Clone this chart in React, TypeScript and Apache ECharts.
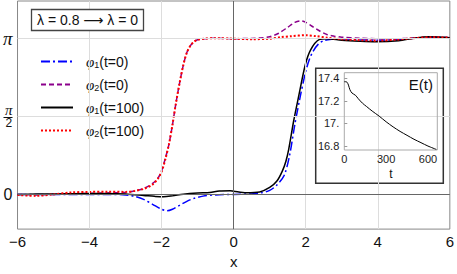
import React, { useEffect, useRef } from "react";
import * as echarts from "echarts";

// φ1 (t=0)
const phi1T0X = [-6, -5, -4, -3.5, -3, -2.75, -2.5, -2.25, -2, -1.85, -1.7, -1.5, -1.3, -1.1, -0.85, -0.5, 0, 0.5, 0.75, 1, 1.2, 1.4, 1.55, 1.7, 1.85, 2, 2.1, 2.2, 2.35, 2.5, 2.75, 3, 3.5, 4, 4.5, 5, 5.5, 6];
const phi1T0Y = [0, 0, 0, 0, -0.01, -0.04, -0.1, -0.2, -0.3, -0.33, -0.3, -0.22, -0.14, -0.08, -0.035, -0.01, 0, 0.01, 0.03, 0.08, 0.19, 0.38, 0.78, 1.42, 1.98, 2.48, 2.72, 2.88, 3.03, 3.1, 3.13, 3.14, 3.12, 3.11, 3.12, 3.15, 3.17, 3.16];
// φ2 (t=0)
const phi2T0X = [-6, -5.5, -5, -4.5, -4, -3.5, -3, -2.75, -2.5, -2.25, -2.1, -2, -1.9, -1.8, -1.7, -1.6, -1.5, -1.4, -1.3, -1.2, -1.1, -1, -0.8, -0.5, 0, 0.5, 0.75, 1, 1.25, 1.5, 1.7, 1.85, 2, 2.2, 2.4, 2.6, 2.8, 3, 3.5, 4, 4.5, 5, 5.5, 6];
const phi2T0Y = [0, -0.01, 0, 0.01, 0.02, 0.03, 0.04, 0.07, 0.12, 0.22, 0.33, 0.48, 0.72, 1.0, 1.4, 1.85, 2.25, 2.6, 2.86, 3.0, 3.08, 3.12, 3.14, 3.15, 3.14, 3.145, 3.155, 3.18, 3.25, 3.37, 3.47, 3.5, 3.47, 3.38, 3.29, 3.22, 3.19, 3.17, 3.15, 3.14, 3.14, 3.15, 3.17, 3.16];
// φ1 (t=100)
const phi1T100X = [-6, -5, -4, -3.5, -3, -2.5, -2.2, -1.95, -1.7, -1.4, -1, -0.66, -0.4, -0.1, 0, 0.35, 0.72, 1, 1.2, 1.35, 1.45, 1.53, 1.67, 1.81, 1.99, 2.14, 2.37, 2.6, 3, 3.5, 3.94, 4.58, 5, 5.4, 6];
const phi1T100Y = [0, 0.01, 0.02, 0.02, 0.01, -0.02, -0.04, -0.05, -0.03, 0.005, 0.03, 0.04, 0.07, 0.075, 0.065, 0.035, 0.05, 0.14, 0.27, 0.47, 0.67, 0.92, 1.5, 2.0, 2.62, 2.92, 3.12, 3.14, 3.11, 3.09, 3.08, 3.1, 3.15, 3.18, 3.16];
// φ2 (t=100)
const phi2T100X = [-6, -5.5, -5, -4.5, -4, -3.5, -3, -2.75, -2.5, -2.25, -2.1, -2, -1.9, -1.8, -1.7, -1.6, -1.5, -1.4, -1.3, -1.2, -1.1, -1, -0.8, -0.5, 0, 0.5, 1, 1.3, 1.6, 2, 2.3, 2.6, 3, 3.5, 4, 4.5, 5, 5.5, 6];
const phi2T100Y = [-0.01, -0.03, 0, 0.04, 0.05, 0.055, 0.05, 0.07, 0.11, 0.2, 0.32, 0.46, 0.7, 1.0, 1.4, 1.85, 2.25, 2.6, 2.86, 3.0, 3.08, 3.12, 3.14, 3.15, 3.14, 3.13, 3.14, 3.17, 3.19, 3.21, 3.19, 3.16, 3.13, 3.11, 3.1, 3.12, 3.15, 3.17, 3.16];

// Inset E(t)
const tVals = [0, 10, 20, 30, 40, 55, 80, 100, 130, 160, 200, 250, 300, 350, 400, 450, 500, 550, 600, 660];
const eVals = [17.37, 17.37, 17.365, 17.34, 17.3, 17.27, 17.25, 17.22, 17.18, 17.15, 17.11, 17.065, 17.015, 16.97, 16.93, 16.895, 16.86, 16.83, 16.8, 16.77];

const yTicks = [0, Math.PI / 2, Math.PI];
const xGridLines = [-4, -2, 2, 4];
const yGridLines = [Math.PI / 2, Math.PI];
const insetXTicks = [0, 300, 600];
const insetYTicks = [16.8, 17, 17.2, 17.4];

const legendNames = ["φ1(t=0)", "φ2(t=0)", "φ1(t=100)", "φ2(t=100)"];

const zip = (xs: number[], ys: number[]) => xs.map((x, i) => [x, ys[i]]);

const FONT = "Liberation Sans, Arial, DejaVu Sans, sans-serif";
const SERIF = "Liberation Serif, DejaVu Serif, serif";

export default function App() {
  const ref = useRef<HTMLDivElement>(null);
  useEffect(() => {
    if (!ref.current) return;
    const chart = echarts.init(ref.current, undefined, { renderer: "svg" });
    const lineBase = {
      type: "line",
      xAxisIndex: 0,
      yAxisIndex: 0,
      showSymbol: false,
      symbol: "none",
      smooth: 0.3,
      z: 3,
    };
    const option: any = {
      animation: false,
      backgroundColor: "#fff",
      textStyle: { fontFamily: FONT, color: "#222" },
      title: {
        text: "λ = 0.8 ⟶ λ = 0",
        left: 31,
        top: 9,
        padding: [3, 6, 3, 6],
        borderColor: "#444",
        borderWidth: 1.3,
        backgroundColor: "#fff",
        textStyle: { fontSize: 14, fontWeight: "normal", color: "#111", fontFamily: FONT, lineHeight: 16 },
      },
      legend: {
        orient: "vertical",
        left: 35,
        top: 46,
        padding: [8, 8, 8, 5],
        itemWidth: 32,
        itemHeight: 12,
        itemGap: 8,
        backgroundColor: "#fff",
        itemStyle: { opacity: 0, color: "rgba(0,0,0,0)", borderWidth: 0, borderColor: "rgba(0,0,0,0)" },
        data: legendNames,
        formatter: (name: string) => {
          const m = name.match(/^φ(\d)(.*)$/);
          if (!m) return name;
          return `{g|}{p|φ}{s|${m[1]}}{n|${m[2]}}`;
        },
        textStyle: {
          fontFamily: FONT,
          color: "#111",
          rich: {
            g: { width: 8 },
            p: { fontSize: 15, fontStyle: "italic", fontFamily: SERIF, color: "#111" },
            s: { fontSize: 9, verticalAlign: "bottom", padding: [6, 0, 0, 0], color: "#111" },
            n: { fontSize: 14, color: "#111" },
          },
        },
      },
      grid: [
        { left: 17, top: 1, right: 5, bottom: 43, show: true, borderColor: "#888", borderWidth: 1 },
        { left: 344.3, top: 72.7, width: 93, height: 77.3, show: true, borderColor: "#aaa", borderWidth: 1, z: 6 },
      ],
      xAxis: [
        {
          type: "value",
          gridIndex: 0,
          min: -6,
          max: 6,
          interval: 2,
          axisLine: { show: false },
          axisTick: { show: false },
          splitLine: { show: false },
          axisLabel: {
            fontSize: 15,
            color: "#111",
            margin: 5,
            fontFamily: FONT,
            formatter: (v: number) => (v < 0 ? "−" + Math.abs(v) : String(v)),
          },
          name: "x",
          nameLocation: "middle",
          nameGap: 24,
          nameTextStyle: { fontSize: 15, color: "#111", fontFamily: FONT },
        },
        {
          type: "value",
          gridIndex: 1,
          min: 0,
          max: 667,
          z: 7,
          axisLine: { show: false, lineStyle: { color: "#222" } },
          axisTick: { show: false, customValues: insetXTicks },
          splitLine: { show: false },
          axisLabel: {
            customValues: insetXTicks,
            fontSize: 11,
            color: "#222",
            margin: 3,
            fontFamily: FONT,
            formatter: (v: number) => String(v),
          },
          name: "t",
          nameLocation: "middle",
          nameGap: 18,
          nameTextStyle: { fontSize: 12, color: "#111", fontFamily: FONT },
        },
      ],
      yAxis: [
        {
          type: "value",
          gridIndex: 0,
          min: -0.7,
          max: 3.9,
          axisLine: { show: false },
          splitLine: { show: false },
          axisTick: { show: true, inside: true, length: 4, customValues: yTicks, lineStyle: { color: "#777" } },
          axisLabel: {
            customValues: yTicks,
            margin: 5,
            color: "#111",
            formatter: (v: number) => {
              if (Math.abs(v) < 1e-9) return "{z|0}";
              if (Math.abs(v - Math.PI) < 1e-6) return "{p|π}";
              return "{n|π}\n{d|2}";
            },
            rich: {
              z: { fontSize: 16, color: "#111", fontFamily: FONT },
              p: { fontSize: 19, fontStyle: "italic", color: "#111", fontFamily: SERIF },
              n: { fontSize: 15, lineHeight: 12, padding: [0, 0, 2, 0], fontStyle: "italic", align: "center", color: "#111", fontFamily: SERIF },
              d: { fontSize: 12, lineHeight: 11, padding: [2, 0, 0, 0], align: "center", color: "#111", fontFamily: FONT },
            },
          },
        },
        {
          type: "value",
          gridIndex: 1,
          min: 16.765,
          max: 17.45,
          z: 7,
          axisLine: { show: false, lineStyle: { color: "#222" } },
          splitLine: { show: false },
          axisTick: { show: true, inside: true, length: 3, customValues: insetYTicks, lineStyle: { color: "#999" } },
          axisLabel: {
            customValues: insetYTicks,
            fontSize: 11,
            color: "#222",
            margin: 5,
            fontFamily: FONT,
            formatter: (v: number) => (Math.abs(v - 17) < 1e-9 ? "17." : v.toFixed(1)),
          },
        },
      ],
      graphic: [
        {
          type: "line",
          z: 5,
          shape: { x1: 3.5, y1: 117.5, x2: 12.5, y2: 117.5 },
          style: { stroke: "#111", lineWidth: 1 },
        },
        {
          type: "rect",
          z: 5,
          shape: { x: 315.7, y: 68.3, width: 127.6, height: 115 },
          style: { fill: "#fff", stroke: "#333", lineWidth: 1.5 },
        },
        {
          type: "text",
          z: 8,
          x: 433,
          y: 84,
          style: { text: "E(t)", fontSize: 15, fill: "#111", align: "right", verticalAlign: "middle", fontFamily: FONT },
        },
      ],
      series: [
        {
          type: "line",
          name: "_grid",
          xAxisIndex: 0,
          yAxisIndex: 0,
          data: [],
          z: 1,
          silent: true,
          markLine: {
            silent: true,
            symbol: "none",
            label: { show: false },
            animation: false,
            data: [
              ...xGridLines.map((v) => ({ xAxis: v, lineStyle: { color: "#ddd", width: 1, type: "solid" } })),
              ...yGridLines.map((v) => ({ yAxis: v, lineStyle: { color: "#ddd", width: 1, type: "solid" } })),
              { xAxis: 0, lineStyle: { color: "#666", width: 1, type: "solid" } },
              { yAxis: 0, lineStyle: { color: "#666", width: 1, type: "solid" } },
            ],
          },
        },
        {
          ...lineBase,
          name: legendNames[0],
          data: zip(phi1T0X, phi1T0Y),
          lineStyle: { color: "#0000ff", width: 1.5, type: [9, 3, 2, 3] },
          itemStyle: { color: "#0000ff" },
        },
        {
          ...lineBase,
          name: legendNames[1],
          data: zip(phi2T0X, phi2T0Y),
          lineStyle: { color: "#8b008b", width: 1.5, type: [5, 3] },
          itemStyle: { color: "#8b008b" },
        },
        {
          ...lineBase,
          name: legendNames[2],
          data: zip(phi1T100X, phi1T100Y),
          lineStyle: { color: "#000", width: 1.5, type: "solid" },
          itemStyle: { color: "#000" },
        },
        {
          ...lineBase,
          name: legendNames[3],
          data: zip(phi2T100X, phi2T100Y),
          lineStyle: { color: "#ff0000", width: 2, type: [2, 2] },
          itemStyle: { color: "#ff0000" },
        },
        {
          type: "line",
          name: "E(t)",
          xAxisIndex: 1,
          yAxisIndex: 1,
          data: zip(tVals, eVals),
          showSymbol: false,
          symbol: "none",
          smooth: 0.3,
          z: 8,
          lineStyle: { color: "#000", width: 1 },
          itemStyle: { color: "#000" },
        },
      ],
    };
    chart.setOption(option);
    return () => chart.dispose();
  }, []);
  return <div ref={ref} style={{ position: "fixed", left: 0, top: 0, width: 457, height: 274 }} />;
}
